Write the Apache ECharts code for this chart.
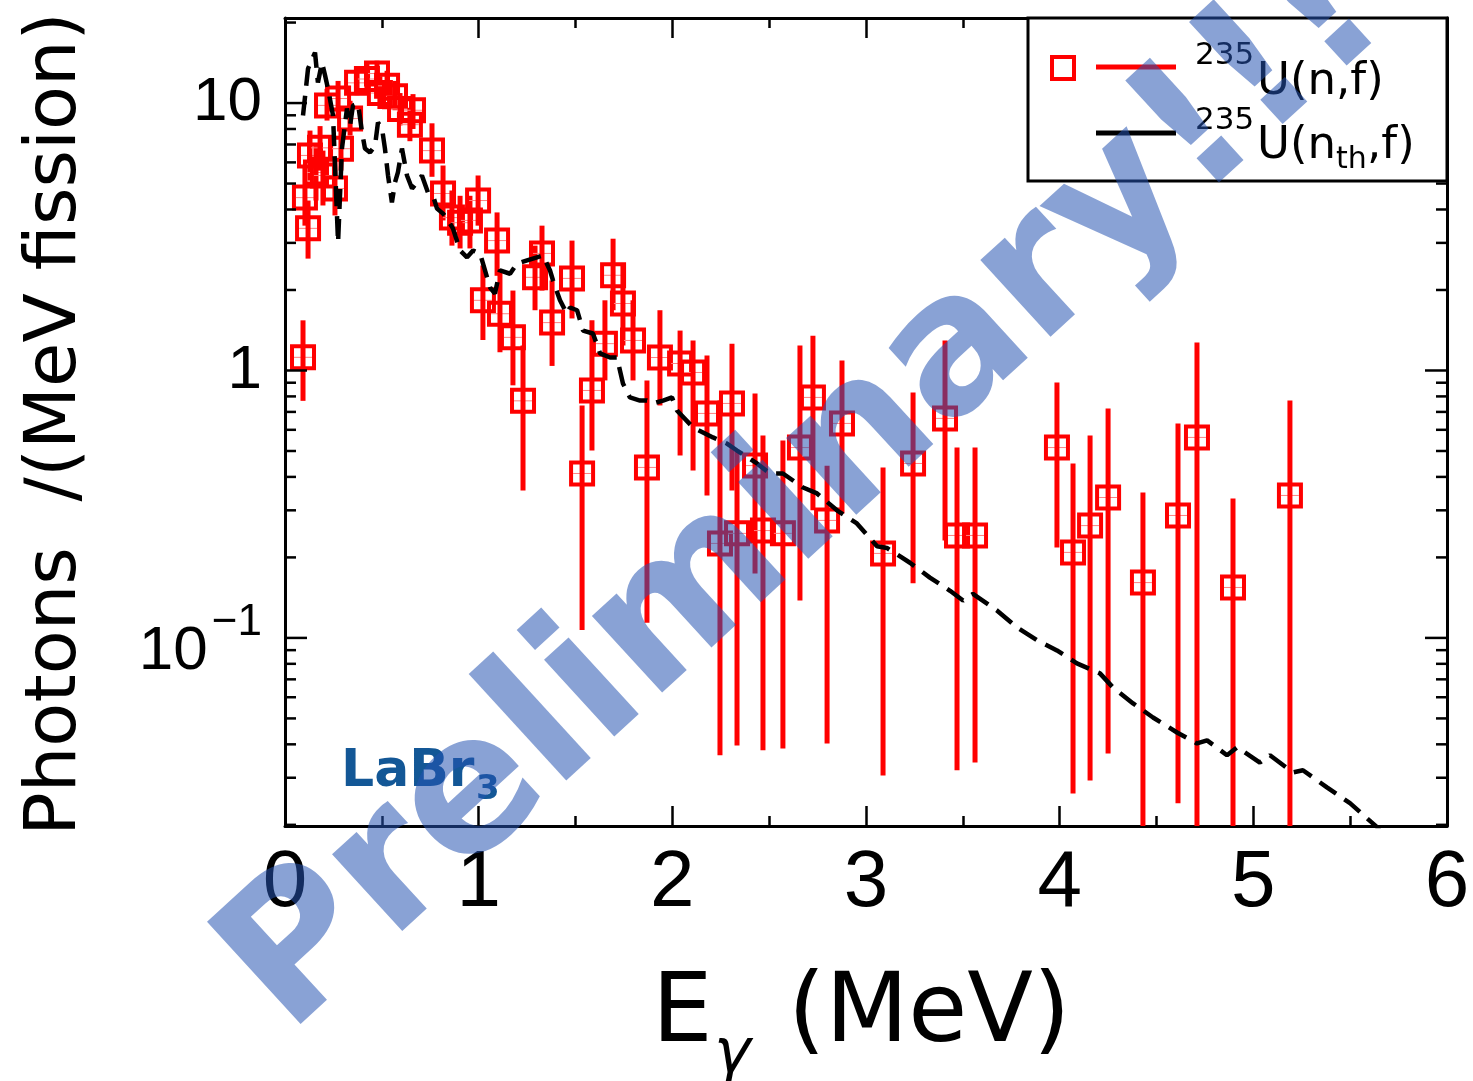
<!DOCTYPE html>
<html><head><meta charset="utf-8">
<script src="https://cdn.jsdelivr.net/npm/echarts@6/dist/echarts.min.js"></script>
<style>html,body{margin:0;padding:0;background:#fff}#c{width:1473px;height:1081px}</style>
</head><body><div id="c"></div>
<script>
// ---- data ----
const xTicks = [0, 1, 2, 3, 4, 5, 6];
const yMajorTicks = [0.1, 1, 10];
const yMinorTicks = [0.02,0.03,0.04,0.05,0.06,0.07,0.08,0.09,
                     0.2,0.3,0.4,0.5,0.6,0.7,0.8,0.9,
                     2,3,4,5,6,7,8,9,20];
// 235U(n,f): [E (MeV), value, lower, upper]
const fissionU235 = [
 [0.093,1.12,0.77,1.54],[0.103,4.43,3.48,5.84],[0.119,3.40,2.62,4.32],[0.129,6.37,5.13,7.89],
 [0.160,5.50,4.32,6.90],[0.181,6.80,5.59,8.20],[0.196,5.36,4.14,6.64],[0.217,9.80,8.60,11.3],
 [0.258,4.79,3.80,6.10],[0.274,10.4,8.98,12.1],[0.289,6.75,5.59,7.89],[0.336,8.75,7.56,10.2],
 [0.372,11.9,10.7,13.6],[0.423,12.3,10.9,14.0],[0.475,12.9,11.3,14.4],[0.490,10.9,9.5,12.6],
 [0.527,11.6,10.2,13.2],[0.568,10.6,9.4,12.1],[0.594,9.5,8.25,10.9],[0.645,8.3,7.2,9.6],
 [0.661,9.4,8.0,10.8],[0.759,6.64,5.3,8.4],[0.816,4.59,3.64,5.84],[0.862,3.73,2.93,4.71],
 [0.904,3.57,2.86,4.5],[0.955,3.64,2.86,4.5],[0.997,4.32,3.48,5.36],[1.022,1.83,1.30,2.47],
 [1.095,3.06,2.26,3.90],[1.110,1.63,1.17,2.36],[1.177,1.33,0.88,1.99],[1.229,0.77,0.356,1.24],
 [1.291,2.23,1.68,2.93],[1.327,2.74,1.99,3.48],[1.379,1.51,1.04,2.17],[1.482,2.21,1.565,3.06],
 [1.534,0.412,0.107,0.74],[1.585,0.842,0.502,1.54],[1.652,1.26,0.918,1.83],[1.694,2.27,1.68,3.11],
 [1.745,1.78,1.24,2.47],[1.797,1.295,0.918,1.83],[1.869,0.434,0.114,0.918],[1.936,1.118,0.74,1.68],
 [2.040,1.062,0.481,1.41],[2.107,0.983,0.423,1.295],[2.179,0.691,0.341,1.138],[2.246,0.2256,0.0364,0.772],
 [2.308,0.753,0.356,1.26],[2.334,0.246,0.0396,0.502],[2.427,0.441,0.174,0.820],[2.468,0.252,0.038,0.571],
 [2.571,0.246,0.0386,0.547],[2.659,0.515,0.138,1.24],[2.726,0.793,0.300,1.35],[2.799,0.275,0.0403,0.44],
 [2.876,0.634,0.292,1.09],[3.088,0.207,0.0306,0.434],[3.243,0.449,0.160,0.827],[3.408,0.662,0.2315,1.295],
 [3.470,0.2416,0.032,0.515],[3.563,0.2416,0.0342,0.515],[3.986,0.515,0.218,0.902],[4.069,0.2088,0.0262,0.449],
 [4.157,0.263,0.0293,0.571],[4.250,0.335,0.037,0.721],[4.430,0.161,0.001,0.350],[4.611,0.287,0.0241,0.634],
 [4.709,0.562,0.001,1.273],[4.895,0.1544,0.001,0.332],[5.189,0.341,0.001,0.772]
];
// 235U(nth,f): [E (MeV), value]
const thermalU235 = [
 [0.093,8.98],[0.119,13.46],[0.155,15.45],[0.170,11.93],[0.191,14.17],[0.207,12.67],[0.222,11.33],
 [0.248,8.98],[0.274,3.01],[0.294,6.76],[0.320,9.54],[0.336,8.24],[0.351,9.79],[0.377,9.96],
 [0.398,7.76],[0.413,6.76],[0.439,6.53],[0.465,6.94],[0.480,8.46],[0.501,8.03],[0.516,6.76],
 [0.532,5.36],[0.552,4.25],[0.568,5.05],[0.583,5.50],[0.604,6.76],[0.630,5.36],[0.656,4.79],
 [0.682,5.05],[0.707,5.36],[0.738,4.63],[0.764,4.51],[0.785,4.03],[0.816,3.86],[0.836,3.70],
 [0.867,3.40],[0.904,2.81],[0.940,2.65],[0.971,2.81],[1.007,2.74],[1.059,2.04],[1.084,1.94],
 [1.110,2.37],[1.162,2.30],[1.198,2.51],[1.250,2.58],[1.301,2.65],[1.332,2.69],[1.368,2.37],
 [1.384,2.17],[1.420,1.83],[1.456,1.63],[1.472,1.72],[1.508,1.68],[1.539,1.41],[1.590,1.375],
 [1.627,1.158],[1.678,1.118],[1.714,1.118],[1.745,0.894],[1.781,0.793],[1.833,0.772],[1.869,0.772],
 [1.900,0.753],[1.952,0.772],[1.998,0.793],[2.024,0.709],[2.107,0.612],[2.210,0.562],[2.282,0.533],
 [2.334,0.502],[2.437,0.449],[2.504,0.412],[2.571,0.412],[2.675,0.365],[2.747,0.347],[2.850,0.300],
 [2.953,0.268],[3.057,0.22],[3.108,0.217],[3.227,0.191],[3.330,0.168],[3.434,0.150],[3.501,0.138],
 [3.552,0.146],[3.676,0.1267],[3.780,0.1095],[3.883,0.0981],[3.986,0.0898],[4.089,0.0803],[4.208,0.0737],
 [4.275,0.0653],[4.379,0.0569],[4.482,0.0504],[4.606,0.0443],[4.709,0.0403],[4.761,0.0414],[4.864,0.0364],
 [4.916,0.0390],[5.034,0.0342],[5.086,0.0364],[5.205,0.0314],[5.256,0.0320],[5.380,0.0276],[5.499,0.0241],
 [5.639,0.0196],[5.706,0.0168]
];

// ---- chart ----
const chart = echarts.init(document.getElementById('c'), null, {renderer: 'canvas'});
const FONT = 'Liberation Sans';
const TXT = 'DejaVu Sans';
const yTickData = yMajorTicks.map(v => [v, 22]).concat(yMinorTicks.map(v => [v, 11]));

function yLabel(v) {
  const e = Math.round(Math.log10(v));
  if (Math.abs(Math.log10(v) - e) > 1e-6) return '';
  if (e === -1) return '{b|10}{s|\u22121}';
  return '{n|' + Math.round(Math.pow(10, e)) + '}';
}

const axisLineStyle = {color: '#000', width: 3};
const option = {
  backgroundColor: '#fff',
  animation: false,
  grid: {left: 285, top: 18, width: 1162, height: 808, show: false},
  xAxis: [
    {type: 'value', min: xTicks[0], max: xTicks[xTicks.length - 1], interval: 1, position: 'bottom',
     axisLine: {show: true, onZero: false, lineStyle: axisLineStyle},
     axisTick: {show: true, inside: true, length: 20, lineStyle: {color: '#000', width: 2.5}},
     minorTick: {show: true, splitNumber: 2, length: 10, lineStyle: {color: '#000', width: 2.5}},
     splitLine: {show: false},
     axisLabel: {show: true, margin: 18, fontSize: 80, color: '#000', fontFamily: FONT}},
    {type: 'value', min: xTicks[0], max: xTicks[xTicks.length - 1], interval: 1, position: 'top',
     axisLine: {show: true, onZero: false, lineStyle: axisLineStyle},
     axisTick: {show: true, inside: true, length: 20, lineStyle: {color: '#000', width: 2.5}},
     minorTick: {show: true, splitNumber: 2, length: 10, lineStyle: {color: '#000', width: 2.5}},
     splitLine: {show: false}, axisLabel: {show: false}}
  ],
  yAxis: [
    {type: 'log', logBase: 10, min: 0.0198, max: 20.8, position: 'left',
     axisLine: {show: true, onZero: false, lineStyle: axisLineStyle},
     axisTick: {show: false}, splitLine: {show: false}, minorTick: {show: false},
     axisLabel: {show: true, margin: 23, formatter: yLabel, color: '#000',
       rich: {
         n: {fontSize: 62, fontFamily: FONT, color: '#000'},
         b: {fontSize: 62, fontFamily: FONT, color: '#000', padding: [28, 0, 0, 0]},
         s: {fontSize: 44, fontFamily: FONT, color: '#000', padding: [0, 0, 30, 4]}
       }}},
    {type: 'log', logBase: 10, min: 0.0198, max: 20.8, position: 'right',
     axisLine: {show: true, onZero: false, lineStyle: axisLineStyle},
     axisTick: {show: false}, splitLine: {show: false}, axisLabel: {show: false}}
  ],
  series: [
    {
      name: '235U(n,f)', type: 'custom', xAxisIndex: 0, yAxisIndex: 0, z: 2,
      data: fissionU235,
      renderItem: function (params, api) {
        const cs = params.coordSys;
        const c = api.coord([api.value(0), api.value(1)]);
        const t = api.coord([api.value(0), api.value(3)]);
        const b = api.coord([api.value(0), api.value(2)]);
        const bot = Math.min(b[1], cs.y + cs.height);
        const top = Math.max(t[1], cs.y);
        return {type: 'group', children: [
          {type: 'rect', shape: {x: c[0] - 11, y: c[1] - 11, width: 22, height: 22},
           style: {fill: 'none', stroke: '#ff0000', lineWidth: 4}},
          {type: 'line', shape: {x1: c[0] - 9, y1: c[1], x2: c[0] + 9, y2: c[1]},
           style: {stroke: '#ff8080', lineWidth: 1}},
          {type: 'line', shape: {x1: c[0], y1: top, x2: c[0], y2: bot},
           style: {stroke: '#ff0000', lineWidth: 5}}
        ]};
      }
    },
    {
      name: '235U(nth,f)', type: 'line', xAxisIndex: 0, yAxisIndex: 0, z: 3,
      data: thermalU235, showSymbol: false, symbol: 'none', clip: true,
      lineStyle: {color: '#000', width: 4.5, type: [20, 10]}
    },
    {
      name: 'yticks', type: 'custom', xAxisIndex: 0, yAxisIndex: 0, z: 4, silent: true,
      data: yTickData,
      renderItem: function (params, api) {
        const cs = params.coordSys;
        const p = api.coord([xTicks[0], api.value(0)]);
        const len = api.value(1);
        return {type: 'group', children: [
          {type: 'line', shape: {x1: cs.x, y1: p[1], x2: cs.x + len, y2: p[1]}, style: {stroke: '#000', lineWidth: 2.5}},
          {type: 'line', shape: {x1: cs.x + cs.width - len, y1: p[1], x2: cs.x + cs.width, y2: p[1]}, style: {stroke: '#000', lineWidth: 2.5}}
        ]};
      }
    }
  ],
  graphic: [
    // legend box
    {type: 'rect', shape: {x: 1028, y: 18, width: 419, height: 163}, style: {fill: '#fff', stroke: '#000', lineWidth: 3}, z: 10},
    {type: 'rect', shape: {x: 1052, y: 57, width: 22, height: 22}, style: {fill: 'none', stroke: '#ff0000', lineWidth: 4}, z: 11},
    {type: 'line', shape: {x1: 1096, y1: 67, x2: 1176, y2: 67}, style: {stroke: '#ff0000', lineWidth: 5}, z: 11},
    {type: 'line', shape: {x1: 1096, y1: 133, x2: 1176, y2: 133}, style: {stroke: '#000', lineWidth: 5}, z: 11},
    {type: 'text', x: 1195, y: 56, z: 11, style: {text: '235', fontSize: 31, fontFamily: TXT, fill: '#000', verticalAlign: 'middle', textVerticalAlign: 'middle'}},
    {type: 'text', x: 1257, y: 82, z: 11, style: {text: 'U(n,f)', fontSize: 45, fontFamily: TXT, fill: '#000', verticalAlign: 'middle', textVerticalAlign: 'middle'}},
    {type: 'text', x: 1195, y: 121, z: 11, style: {text: '235', fontSize: 31, fontFamily: TXT, fill: '#000', verticalAlign: 'middle', textVerticalAlign: 'middle'}},
    {type: 'text', x: 1257, y: 146, z: 11, style: {text: 'U(n', fontSize: 45, fontFamily: TXT, fill: '#000', verticalAlign: 'middle', textVerticalAlign: 'middle'}},
    {type: 'text', x: 1336, y: 160, z: 11, style: {text: 'th', fontSize: 30, fontFamily: TXT, fill: '#000', verticalAlign: 'middle', textVerticalAlign: 'middle'}},
    {type: 'text', x: 1367, y: 146, z: 11, style: {text: ',f)', fontSize: 45, fontFamily: TXT, fill: '#000', verticalAlign: 'middle', textVerticalAlign: 'middle'}},
    // LaBr3
    {type: 'text', x: 341, y: 772, z: 12, style: {text: 'LaBr', fontSize: 52, fontWeight: 'bold', fontFamily: TXT, fill: '#135796', verticalAlign: 'middle', textVerticalAlign: 'middle'}},
    {type: 'text', x: 476, y: 790, z: 12, style: {text: '3', fontSize: 34, fontWeight: 'bold', fontFamily: TXT, fill: '#135796', verticalAlign: 'middle', textVerticalAlign: 'middle'}},
    // axis titles
    {type: 'text', x: 652, y: 1016, z: 12, style: {text: 'E', fontSize: 96, fontFamily: TXT, fill: '#000', verticalAlign: 'middle', textVerticalAlign: 'middle'}},
    {type: 'text', x: 714, y: 1056, z: 12, style: {text: '\u03b3', fontSize: 62, fontStyle: 'italic', fontFamily: TXT, fill: '#000', verticalAlign: 'middle', textVerticalAlign: 'middle'}},
    {type: 'text', x: 788, y: 1016, z: 12, style: {text: '(MeV)', fontSize: 96, fontFamily: TXT, fill: '#000', verticalAlign: 'middle', textVerticalAlign: 'middle'}},
    {type: 'text', x: 56, y: 424, rotation: Math.PI / 2, z: 12, style: {text: 'Photons  /(MeV fission)', fontSize: 72, fontFamily: TXT, fill: '#000', align: 'center', textAlign: 'center', verticalAlign: 'middle', textVerticalAlign: 'middle'}},
    // watermark
    {type: 'text', x: 806, y: 494, rotation: 42.5 * Math.PI / 180, z: 100, silent: true,
     style: {text: 'Preliminary!!!', fontSize: 190, fontWeight: 'bold', fontFamily: TXT, fill: 'rgba(37,84,177,0.54)', align: 'center', textAlign: 'center', verticalAlign: 'middle', textVerticalAlign: 'middle'}}
  ]
};
chart.setOption(option);
</script>
</body></html>
